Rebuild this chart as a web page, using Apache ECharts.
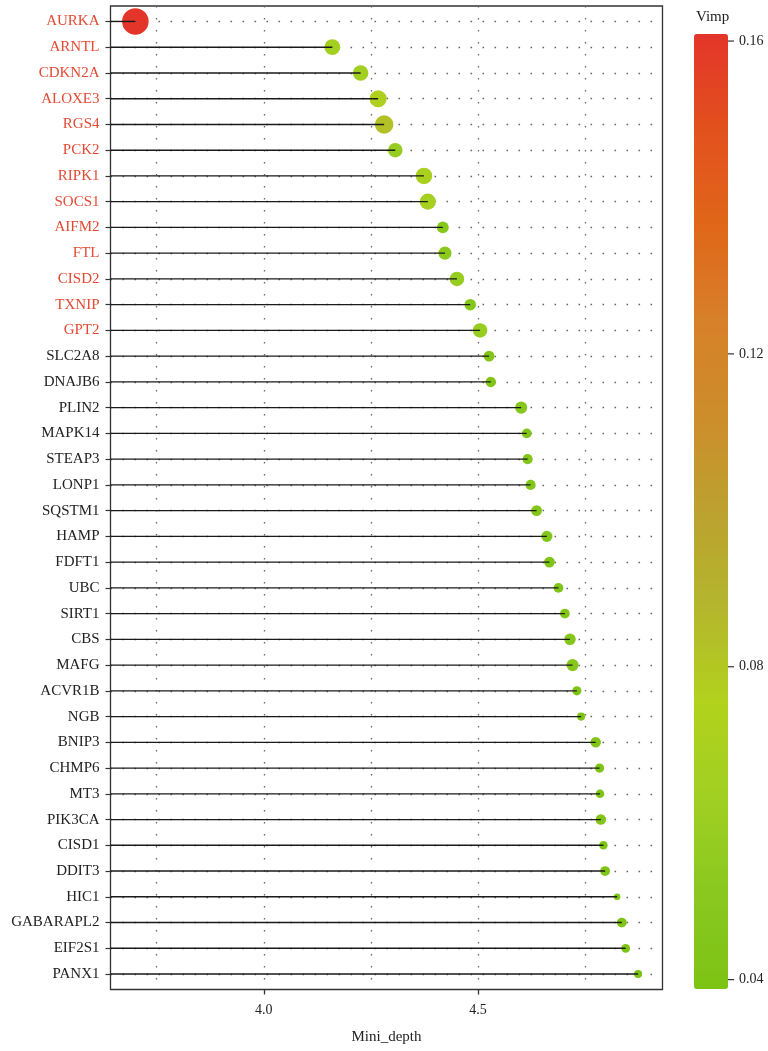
<!DOCTYPE html>
<html>
<head>
<meta charset="utf-8">
<script src="https://cdn.jsdelivr.net/npm/echarts@6/dist/echarts.min.js"></script>
<style>
  html, body { margin: 0; padding: 0; background: #ffffff; }
  #chart { width: 768px; height: 1051px; }
</style>
</head>
<body>
<div id="chart"></div>
<script>
// ---------- data ----------
const genes = ['AURKA','ARNTL','CDKN2A','ALOXE3','RGS4','PCK2','RIPK1','SOCS1','AIFM2','FTL',
  'CISD2','TXNIP','GPT2','SLC2A8','DNAJB6','PLIN2','MAPK14','STEAP3','LONP1','SQSTM1',
  'HAMP','FDFT1','UBC','SIRT1','CBS','MAFG','ACVR1B','NGB','BNIP3','CHMP6',
  'MT3','PIK3CA','CISD1','DDIT3','HIC1','GABARAPL2','EIF2S1','PANX1'];
const miniDepth = [3.700,4.160,4.226,4.267,4.281,4.307,4.374,4.383,4.418,4.423,
  4.451,4.482,4.505,4.526,4.530,4.601,4.614,4.616,4.623,4.637,
  4.661,4.667,4.688,4.703,4.715,4.721,4.731,4.741,4.775,4.784,
  4.785,4.787,4.793,4.797,4.825,4.836,4.845,4.874];
const vimp = [0.1609,0.0652,0.0635,0.0731,0.0828,0.0583,0.0693,0.0669,0.0474,0.0521,
  0.0583,0.0464,0.0583,0.0444,0.0437,0.0484,0.0421,0.0428,0.0428,0.0444,
  0.0453,0.0444,0.0421,0.0421,0.0464,0.0484,0.0409,0.0396,0.0437,0.0409,
  0.0400,0.0437,0.0400,0.0421,0.0388,0.0421,0.0404,0.0396];
const highlightedGenes = ['AURKA','ARNTL','CDKN2A','ALOXE3','RGS4','PCK2','RIPK1','SOCS1',
  'AIFM2','FTL','CISD2','TXNIP','GPT2'];
const xTickLabels = [4.0, 4.5];
const xGridValues = [3.75, 4.0, 4.25, 4.5, 4.75];
const vimpTicks = [0.04, 0.08, 0.12, 0.16];
const xRange = [3.642, 4.931];
const vimpRange = [0.0388, 0.1609];

// ---------- styles ----------
const FONT = 'Liberation Serif';
const RED = '#E24A33';
const TEXT = '#222222';
const DOT = { type: [1.6, 10.4], width: 1.3, color: '#666666' };
const gradient = ['#7CC314','#8AC81F','#A0CF22','#B2D21C','#B4B62D','#BCA12F',
                  '#CD8D2A','#D7802A','#E0661A','#E2511D','#E3352A'];
const SIZE_MIN = 6.5, SIZE_MAX = 26.5;

const rowIdx = genes.map((g, i) => i);
const pts = genes.map((g, i) => [miniDepth[i], i, vimp[i]]);

const chart = echarts.init(document.getElementById('chart'), null, { renderer: 'canvas' });

const option = {
  animation: false,
  backgroundColor: '#ffffff',
  title: {
    text: 'Vimp', left: 696, top: 10, padding: 0,
    textStyle: { fontFamily: FONT, fontSize: 15, fontWeight: 'normal', color: TEXT }
  },
  grid: [
    { left: 110.5, right: 105.5, top: 6, bottom: 61.5, show: true,
      borderColor: '#333333', borderWidth: 1.3, containLabel: false },
    { left: 694, top: 34, width: 34, height: 955, show: false }
  ],
  xAxis: [
    { type: 'value', gridIndex: 0, position: 'bottom', min: xRange[0], max: xRange[1],
      axisLine: { show: false, onZero: false },
      axisTick: { show: true, length: 5, customValues: xTickLabels,
                  lineStyle: { color: '#333333', width: 1.3 } },
      axisLabel: { customValues: xTickLabels, margin: 14, formatter: v => Number(v).toFixed(1),
                   fontFamily: FONT, fontSize: 14, color: TEXT },
      splitLine: { show: false },
      name: 'Mini_depth', nameLocation: 'middle', nameGap: 40,
      nameTextStyle: { fontFamily: FONT, fontSize: 15, color: TEXT } },
    { type: 'value', gridIndex: 0, position: 'top', min: xRange[0], max: xRange[1],
      axisLine: { show: false, onZero: false },
      axisTick: { show: false, customValues: xGridValues },
      axisLabel: { show: false, customValues: xGridValues },
      splitLine: { show: true, lineStyle: DOT } },
    { type: 'value', gridIndex: 1, show: false, min: 0, max: 1 }
  ],
  yAxis: [
    { type: 'value', gridIndex: 0, inverse: true, min: -0.6, max: genes.length - 1 + 0.6,
      axisLine: { show: false, onZero: false },
      axisTick: { show: true, length: 5, customValues: rowIdx,
                  lineStyle: { color: '#333333', width: 1.2 } },
      axisLabel: {
        customValues: rowIdx, margin: 11,
        formatter: v => {
          const g = genes[Math.round(v)];
          return highlightedGenes.includes(g) ? '{r|' + g + '}' : '{k|' + g + '}';
        },
        rich: {
          r: { fontFamily: FONT, fontSize: 15, color: RED },
          k: { fontFamily: FONT, fontSize: 15, color: TEXT }
        }
      },
      splitLine: { show: true, lineStyle: DOT } },
    { type: 'value', gridIndex: 1, position: 'right', min: vimpRange[0], max: vimpRange[1],
      axisLine: { show: false, onZero: false },
      axisTick: { show: false, customValues: vimpTicks },
      axisLabel: { customValues: vimpTicks, margin: 11, formatter: v => Number(v).toFixed(2),
                   fontFamily: FONT, fontSize: 14, color: TEXT },
      splitLine: { show: false } }
  ],
  visualMap: {
    type: 'continuous', seriesIndex: 0, dimension: 2,
    min: vimpRange[0], max: vimpRange[1],
    orient: 'vertical', left: 694, top: 34, padding: 0,
    itemWidth: 34, itemHeight: 955, calculable: false, realtime: false,
    hoverLink: false, showLabel: false, text: null, z: 1,
    inRange: { color: gradient }
  },
  series: [
    { type: 'scatter', xAxisIndex: 0, yAxisIndex: 0, data: pts, z: 2,
      symbol: 'circle',
      symbolSize: d => SIZE_MIN + (SIZE_MAX - SIZE_MIN) *
        Math.sqrt(Math.max(0, (d[2] - vimpRange[0]) / (vimpRange[1] - vimpRange[0]))),
      itemStyle: { opacity: 1 } },
    { type: 'custom', xAxisIndex: 0, yAxisIndex: 0, data: pts, z: 3,
      encode: { x: 0, y: 1 },
      renderItem: (params, api) => {
        const y = api.value(1);
        const p0 = api.coord([xRange[0], y]);
        const p1 = api.coord([api.value(0), y]);
        return { type: 'line', shape: { x1: p0[0], y1: p0[1], x2: p1[0], y2: p1[1] },
                 style: { stroke: '#1a1a1a', lineWidth: 1.4 } };
      } },
    // colour-bar tick marks, placed with the colour-bar axis scale
    { type: 'custom', xAxisIndex: 2, yAxisIndex: 1, data: vimpTicks.map(v => [1, v]), z: 5,
      encode: { x: 0, y: 1 }, silent: true,
      renderItem: (params, api) => {
        const p = api.coord([1, api.value(1)]);
        return { type: 'line', shape: { x1: p[0], y1: p[1], x2: p[0] + 6, y2: p[1] },
                 style: { stroke: '#333333', lineWidth: 1.2 } };
      } }
  ]
};
chart.setOption(option);
</script>
</body>
</html>
